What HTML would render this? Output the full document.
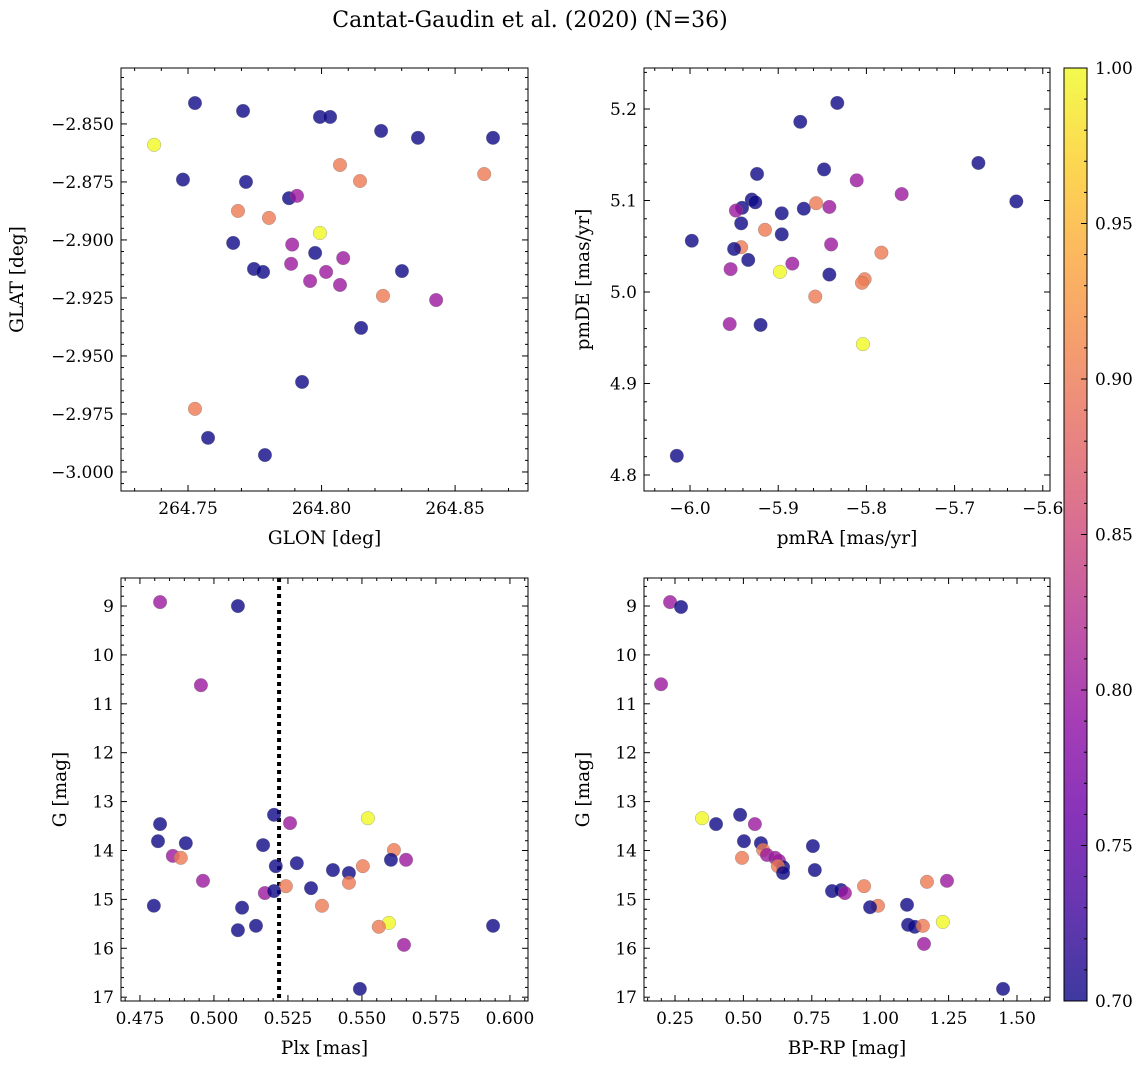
<!DOCTYPE html>
<html><head><meta charset="utf-8"><style>
body{margin:0;background:#fff;}
svg{display:block;font-family:"DejaVu Serif","Liberation Serif",serif;}
</style></head><body>
<svg id="fig" width="1148" height="1068" xmlns="http://www.w3.org/2000/svg">
<text x="530" y="27" font-size="22" text-anchor="middle">Cantat-Gaudin et al. (2020) (N=36)</text>
</svg>
<script>
// Panel 1: GLON / GLAT
const glon=[264.7526,264.7706,264.7373,264.7481,264.7717,264.7687,264.7803,264.7878,264.7908,264.7994,264.8032,264.8069,264.8144,264.8223,264.8361,264.8642,264.8609,264.7994,264.7890,264.7669,264.7747,264.7781,264.7886,264.7976,264.8081,264.8017,264.7957,264.8069,264.8301,264.8230,264.8429,264.8148,264.7927,264.7526,264.7575,264.7788];
const glat=[-2.841,-2.8444,-2.859,-2.874,-2.875,-2.8875,-2.8905,-2.882,-2.881,-2.847,-2.847,-2.8677,-2.8746,-2.853,-2.856,-2.856,-2.8716,-2.897,-2.902,-2.9013,-2.9125,-2.9138,-2.9103,-2.9056,-2.9078,-2.9138,-2.9177,-2.9194,-2.9134,-2.9241,-2.9259,-2.9379,-2.9612,-2.9728,-2.9853,-2.9927];
const memb1=[0.70,0.70,1.00,0.70,0.70,0.90,0.90,0.70,0.80,0.70,0.70,0.90,0.90,0.70,0.70,0.70,0.90,1.00,0.80,0.70,0.70,0.70,0.80,0.70,0.80,0.80,0.80,0.80,0.70,0.90,0.80,0.70,0.70,0.90,0.70,0.70];
// Panel 2: pmRA / pmDE
const pmra=[-5.833,-5.875,-5.848,-5.673,-5.630,-5.811,-5.760,-5.924,-5.930,-5.926,-5.871,-5.896,-5.941,-5.948,-5.942,-5.857,-5.842,-5.915,-5.896,-5.942,-5.950,-5.934,-5.998,-5.840,-5.783,-5.884,-5.954,-5.842,-5.898,-5.802,-5.805,-5.858,-5.955,-5.920,-5.804,-6.015];
const pmde=[5.2066,5.186,5.134,5.141,5.099,5.122,5.107,5.129,5.101,5.098,5.091,5.086,5.092,5.089,5.075,5.097,5.093,5.068,5.063,5.049,5.047,5.035,5.056,5.052,5.043,5.031,5.025,5.019,5.022,5.014,5.010,4.995,4.965,4.964,4.943,4.821];
const memb2=[0.70,0.70,0.70,0.70,0.70,0.80,0.80,0.70,0.70,0.70,0.70,0.70,0.70,0.80,0.70,0.90,0.80,0.90,0.70,0.90,0.70,0.70,0.70,0.80,0.90,0.80,0.80,0.70,1.00,0.90,0.90,0.90,0.80,0.70,1.00,0.70];
// Panel 3: Plx / G
const plx=[0.4818,0.5081,0.4956,0.4818,0.5203,0.5257,0.5520,0.4811,0.4905,0.4861,0.4888,0.5166,0.5608,0.5280,0.5209,0.5402,0.5456,0.5503,0.5598,0.5649,0.4963,0.5456,0.5243,0.5172,0.5203,0.5328,0.4797,0.5365,0.5095,0.5591,0.5142,0.5081,0.5557,0.5943,0.5642,0.5493];
const gmag3=[8.92,9.00,10.62,13.46,13.27,13.44,13.34,13.81,13.85,14.11,14.15,13.89,13.99,14.26,14.32,14.40,14.46,14.32,14.19,14.19,14.62,14.66,14.73,14.87,14.83,14.77,15.13,15.13,15.17,15.48,15.54,15.63,15.56,15.54,15.93,16.83];
const memb3=[0.80,0.70,0.80,0.70,0.70,0.80,1.00,0.70,0.70,0.80,0.90,0.70,0.90,0.70,0.70,0.70,0.70,0.90,0.70,0.80,0.80,0.90,0.90,0.80,0.70,0.70,0.70,0.90,0.70,1.00,0.70,0.70,0.90,0.70,0.80,0.70];
const plxLine=0.522;
// Panel 4: BP-RP / G
const bprp=[0.232,0.272,0.199,0.349,0.400,0.488,0.542,0.502,0.564,0.572,0.586,0.495,0.616,0.630,0.645,0.626,0.645,0.754,0.761,0.824,0.857,0.871,0.941,1.171,1.244,1.098,0.992,0.963,1.102,1.126,1.156,1.229,1.160,1.449];
const gmag4=[8.92,9.02,10.60,13.34,13.46,13.27,13.46,13.81,13.85,13.99,14.09,14.15,14.15,14.21,14.34,14.32,14.46,13.91,14.40,14.83,14.81,14.87,14.73,14.64,14.62,15.11,15.13,15.16,15.52,15.56,15.54,15.46,15.91,16.83];
const memb4=[0.80,0.70,0.80,1.00,0.70,0.70,0.80,0.70,0.70,0.90,0.80,0.90,0.80,0.80,0.70,0.90,0.70,0.70,0.70,0.70,0.70,0.80,0.90,0.90,0.80,0.70,0.90,0.70,0.70,0.70,0.90,1.00,0.80,0.70];
const cbTicks=[0.70,0.75,0.80,0.85,0.90,0.95,1.00];

const NS="http://www.w3.org/2000/svg";
const svg=document.getElementById('fig');
function mk(t,a,p){const e=document.createElementNS(NS,t);for(const k in a)e.setAttribute(k,a[k]);(p||svg).appendChild(e);return e;}
const stops=["#0d0887","#41049d","#6a00a8","#8f0da4","#b12a90","#cc4778","#e16462","#f2844b","#fca636","#fcce25","#f0f921"];
function hx(h){return [1,3,5].map(i=>parseInt(h.substr(i,2),16));}
function plasma(t){t=Math.max(0,Math.min(1,t));const f=t*10,i=Math.min(9,Math.floor(f)),r=f-i;const a=hx(stops[i]),b=hx(stops[i+1]);return 'rgb('+a.map((v,k)=>Math.round(v+(b[k]-v)*r)).join(',')+')';}
function cmap(c){return plasma((c-0.70)/0.30);}
function fmt(v,d){let s=v.toFixed(d);return s.replace('-','\u2212');}
const TF=17, LF=18.5;

function panel(o){
  const g=mk('g',{});
  
  
  const sx=v=>o.x0+(v-o.xr[0])/(o.xr[1]-o.xr[0])*(o.x1-o.x0);
  const sy=v=>o.y1-(v-o.yr[0])/(o.yr[1]-o.yr[0])*(o.y1-o.y0);
  const tk=mk('g',{stroke:'#000','stroke-width':1},g);
  
  
  const lo=Math.min(o.xr[0],o.xr[1]),hi=Math.max(o.xr[0],o.xr[1]);
  for(let k=Math.ceil(lo/o.xmin-1e-6);k*o.xmin<=hi+1e-9;k++){const v=k*o.xmin;const X=sx(v);
    const maj=Math.abs(v/o.xmaj-Math.round(v/o.xmaj))<1e-4;const L=maj?6:3;
    mk('line',{x1:X,x2:X,y1:o.y1,y2:o.y1-L},tk);mk('line',{x1:X,x2:X,y1:o.y0,y2:o.y0+L},tk);
    if(maj){const t=mk('text',{x:X,y:o.y1+23,'font-size':TF,'text-anchor':'middle',stroke:'none'},g);t.textContent=fmt(v,o.xd);
      }}
  const ylo=Math.min(o.yr[0],o.yr[1]),yhi=Math.max(o.yr[0],o.yr[1]);
  for(let k=Math.ceil(ylo/o.ymin-1e-6);k*o.ymin<=yhi+1e-9;k++){const v=k*o.ymin;const Y=sy(v);
    const maj=Math.abs(v/o.ymaj-Math.round(v/o.ymaj))<1e-4;const L=maj?6:3;
    mk('line',{x1:o.x0,x2:o.x0+L,y1:Y,y2:Y},tk);mk('line',{x1:o.x1,x2:o.x1-L,y1:Y,y2:Y},tk);
    if(maj){const t=mk('text',{x:o.x0-7,y:Y+6,'font-size':TF,'text-anchor':'end'},g);t.textContent=fmt(v,o.yd);
      }}
  if(o.vline!==undefined){const l=mk('line',{x1:sx(o.vline),x2:sx(o.vline),y1:o.y0,y2:o.y1,stroke:'#000','stroke-width':4,'stroke-dasharray':'4,4'},g);
    }
  for(let i=0;i<o.xs.length;i++){
    const c=mk('circle',{cx:sx(o.xs[i]),cy:sy(o.ys[i]),r:6.8,fill:cmap(o.cs[i]),'fill-opacity':0.8,stroke:'#777','stroke-width':0.5,'stroke-opacity':0.6},g);
    
    
  }
  const fr=mk('rect',{x:o.x0,y:o.y0,width:o.x1-o.x0,height:o.y1-o.y0,fill:'none',stroke:'#000','stroke-width':1},g);
  
  const xl=mk('text',{x:(o.x0+o.x1)/2,y:o.y1+53,'font-size':LF,'text-anchor':'middle'},g);xl.textContent=o.xl;
  
  const yc=(o.y0+o.y1)/2,yx=o.x0-o.ylo;
  const yl=mk('text',{x:yx,y:yc,'font-size':LF,'text-anchor':'middle',transform:'rotate(-90 '+yx+' '+yc+')'},g);yl.textContent=o.yl;
  
}
panel({name:'glon-glat-panel',x0:121,x1:528,y0:68,y1:491,xr:[264.7249,264.8773],yr:[-3.0082,-2.8259],xmaj:0.05,xmin:0.01,ymaj:0.025,ymin:0.005,xd:2,yd:3,xs:glon,ys:glat,cs:memb1,xl:'GLON [deg]',yl:'GLAT [deg]',ylo:98});
panel({name:'pm-panel',x0:644,x1:1050,y0:68,y1:491,xr:[-6.0522,-5.5918],yr:[4.7825,5.2448],xmaj:0.1,xmin:0.02,ymaj:0.1,ymin:0.02,xd:1,yd:1,xs:pmra,ys:pmde,cs:memb2,xl:'pmRA [mas/yr]',yl:'pmDE [mas/yr]',ylo:55});
panel({name:'plx-g-panel',x0:121,x1:528,y0:578,y1:1001,xr:[0.4686,0.6061],yr:[17.078,8.427],xmaj:0.025,xmin:0.005,ymaj:1,ymin:0.2,xd:3,yd:0,xs:plx,ys:gmag3,cs:memb3,xl:'Plx [mas]',yl:'G [mag]',ylo:55,vline:plxLine});
panel({name:'cmd-panel',x0:644,x1:1050,y0:578,y1:1001,xr:[0.1367,1.6206],yr:[17.078,8.427],xmaj:0.25,xmin:0.05,ymaj:1,ymin:0.2,xd:2,yd:0,xs:bprp,ys:gmag4,cs:memb4,xl:'BP-RP [mag]',yl:'G [mag]',ylo:55});

const cb=mk('g',{});
const defs=mk('defs',{},cb);const lg=mk('linearGradient',{id:'pg',x1:0,y1:1,x2:0,y2:0},defs);
for(let i=0;i<=20;i++)mk('stop',{offset:i/20,'stop-color':plasma(i/20),'stop-opacity':0.8},lg);
mk('rect',{x:1064,y:68,width:23,height:933,fill:'url(#pg)',stroke:'#000','stroke-width':1},cb);
const cy=v=>1001-(v-0.70)/0.30*933;
for(let k=70;k<=100;k++){const Y=cy(k/100);const maj=k%5===0;mk('line',{x1:1087,x2:1087-(maj?6:3),y1:Y,y2:Y,stroke:'#000'},cb);}
cbTicks.forEach(v=>{const t=mk('text',{x:1095,y:cy(v)+6,'font-size':TF},cb);t.textContent=v.toFixed(2);
  });
</script>
</body></html>
